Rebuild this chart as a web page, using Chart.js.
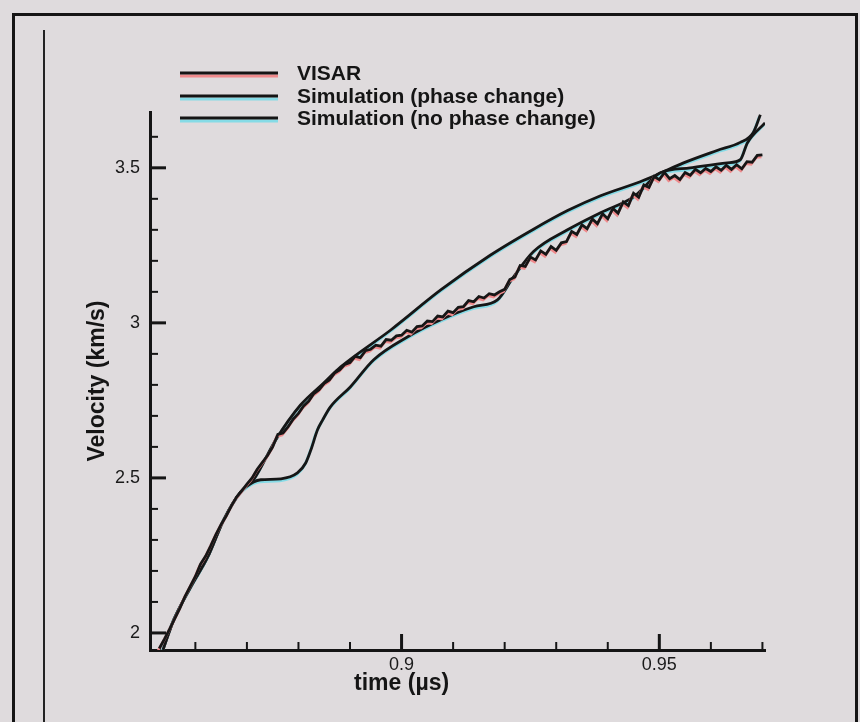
<!DOCTYPE html>
<html lang="en">
<head>
<meta charset="utf-8">
<title>VISAR vs simulation</title>
<style>
    html, body { margin: 0; padding: 0; background: #dfdbdd; }
    #wrap { position: relative; width: 860px; height: 722px; overflow: hidden; }
    #frame { position: absolute; left: 12px; top: 13px; width: 840px; height: 760px;
             border: 3px solid #151515; }
    #inner { position: absolute; left: 43px; top: 30px; width: 2px; height: 700px; background: #222; }
    #myChart { position: absolute; left: 0; top: 0; }
</style>
</head>
<body>
<div id="wrap">
    <div id="frame"></div>
    <div id="inner"></div>
    <canvas id="myChart" width="860" height="722"></canvas>
</div>

<script src="https://cdn.jsdelivr.net/npm/chart.js"></script>
<script>
    // time (µs) / velocity (km/s)
    var visarTime = [
        0.853, 0.854, 0.855, 0.856, 0.857, 0.858, 0.859, 0.860, 0.861, 0.862,
        0.863, 0.864, 0.865, 0.866, 0.867, 0.868, 0.869, 0.870, 0.871, 0.872,
        0.873, 0.874, 0.875, 0.876, 0.877, 0.878, 0.879, 0.880, 0.881, 0.882,
        0.883, 0.884, 0.885, 0.886, 0.887, 0.888, 0.889, 0.890, 0.891, 0.892,
        0.893, 0.894, 0.895, 0.896, 0.897, 0.898, 0.899, 0.900, 0.901, 0.902,
        0.903, 0.904, 0.905, 0.906, 0.907, 0.908, 0.909, 0.910, 0.911, 0.912,
        0.913, 0.914, 0.915, 0.916, 0.917, 0.918, 0.919, 0.920, 0.921, 0.922,
        0.923, 0.924, 0.925, 0.926, 0.927, 0.928, 0.929, 0.930, 0.931, 0.932,
        0.933, 0.934, 0.935, 0.936, 0.937, 0.938, 0.939, 0.940, 0.941, 0.942,
        0.943, 0.944, 0.945, 0.946, 0.947, 0.948, 0.949, 0.950, 0.951, 0.952,
        0.953, 0.954, 0.955, 0.956, 0.957, 0.958, 0.959, 0.960, 0.961, 0.962,
        0.963, 0.964, 0.965, 0.966, 0.967, 0.968, 0.969, 0.970
    ];
    var visarVel = [
        1.950, 1.980, 2.012, 2.046, 2.080, 2.118, 2.150, 2.182, 2.222, 2.248,
        2.282, 2.318, 2.350, 2.378, 2.410, 2.438, 2.458, 2.480, 2.500, 2.528,
        2.550, 2.572, 2.600, 2.640, 2.645, 2.665, 2.690, 2.708, 2.732, 2.748,
        2.772, 2.784, 2.805, 2.816, 2.838, 2.848, 2.866, 2.872, 2.892, 2.888,
        2.910, 2.915, 2.928, 2.925, 2.946, 2.944, 2.958, 2.960, 2.976, 2.970,
        2.988, 2.990, 3.006, 3.004, 3.022, 3.019, 3.038, 3.033, 3.050, 3.052,
        3.072, 3.068, 3.085, 3.080, 3.094, 3.090, 3.100, 3.108, 3.140, 3.148,
        3.185, 3.182, 3.212, 3.203, 3.232, 3.221, 3.246, 3.234, 3.258, 3.262,
        3.295, 3.285, 3.316, 3.304, 3.335, 3.320, 3.352, 3.336, 3.369, 3.354,
        3.390, 3.378, 3.418, 3.405, 3.445, 3.437, 3.472, 3.462, 3.485, 3.465,
        3.475, 3.462, 3.485, 3.476, 3.495, 3.484, 3.498, 3.488, 3.503, 3.492,
        3.508, 3.495, 3.510, 3.497, 3.520, 3.518, 3.540, 3.542
    ];

    var phaseTime = [
        0.8537, 0.8558, 0.8591, 0.8624, 0.8655, 0.8688, 0.8713, 0.8727, 0.8766, 0.8798,
        0.8814, 0.8824, 0.8837, 0.8847, 0.8862, 0.8901, 0.8946, 0.9012, 0.9076, 0.9140,
        0.9186, 0.9217, 0.9256, 0.9322, 0.9386, 0.9450, 0.9502, 0.9560, 0.9632, 0.9657,
        0.9671, 0.9705
    ];
    var phaseVel = [
        1.945, 2.042, 2.148, 2.245, 2.365, 2.455, 2.487, 2.494, 2.497, 2.516,
        2.548, 2.590, 2.655, 2.687, 2.729, 2.794, 2.881, 2.955, 3.010, 3.052,
        3.074, 3.148, 3.230, 3.300, 3.355, 3.406, 3.484, 3.500, 3.516, 3.526,
        3.581, 3.645
    ];

    var noPhaseTime = [
        0.8537, 0.8558, 0.8591, 0.8624, 0.8655, 0.8688, 0.8713, 0.8756, 0.8804, 0.8849,
        0.8882, 0.8979, 0.9076, 0.9172, 0.9256, 0.9322, 0.9386, 0.9463, 0.9496, 0.9547,
        0.9612, 0.9657, 0.9682, 0.9696
    ];
    var noPhaseVel = [
        1.945, 2.042, 2.148, 2.245, 2.365, 2.455, 2.494, 2.623, 2.735, 2.806,
        2.858, 2.977, 3.106, 3.218, 3.302, 3.362, 3.410, 3.455, 3.478, 3.516,
        3.556, 3.582, 3.613, 3.671
    ];

    var xMajorTicks = [0.9, 0.95];
    var xMinorTicks = [0.86, 0.87, 0.88, 0.89, 0.91, 0.92, 0.93, 0.94, 0.96, 0.97];
    var yMajorTicks = [2, 2.5, 3, 3.5];
    var yMinorTicks = [2.1, 2.2, 2.3, 2.4, 2.6, 2.7, 2.8, 2.9, 3.1, 3.2, 3.3, 3.4, 3.6];

    function pairs(xs, ys) {
        return xs.map(function (x, i) { return {x: x, y: ys[i]}; });
    }

    var fontFamily = '"Liberation Sans", Arial, Helvetica, sans-serif';
    var ink = '#151515';

    // coloured offset under each black trace, like the printed figure
    var haloPlugin = {
        id: 'halo',
        beforeDatasetDraw: function (chart, args) {
            var ds = chart.data.datasets[args.index];
            var ctx = chart.ctx;
            ctx.save();
            ctx.shadowColor = ds.haloColor;
            ctx.shadowOffsetX = -1;
            ctx.shadowOffsetY = 2;
            ctx.shadowBlur = 0;
        },
        afterDatasetDraw: function (chart) {
            chart.ctx.restore();
        }
    };

    // inward tick marks + x title under the 0.9 label
    var tickPlugin = {
        id: 'inTicks',
        afterDatasetsDraw: function (chart) {
            var ctx = chart.ctx, xs = chart.scales.x, ys = chart.scales.y;
            var left = chart.chartArea.left, bottom = chart.chartArea.bottom;
            ctx.save();
            ctx.strokeStyle = ink;
            ctx.lineCap = 'butt';
            function yTick(v, len, w) {
                var y = ys.getPixelForValue(v);
                ctx.lineWidth = w;
                ctx.beginPath(); ctx.moveTo(left, y); ctx.lineTo(left + len, y); ctx.stroke();
            }
            function xTick(v, len, w) {
                var x = xs.getPixelForValue(v);
                ctx.lineWidth = w;
                ctx.beginPath(); ctx.moveTo(x, bottom); ctx.lineTo(x, bottom - len); ctx.stroke();
            }
            yMinorTicks.forEach(function (v) { yTick(v, 8, 2); });
            yMajorTicks.forEach(function (v) { yTick(v, 16, 3); });
            xMinorTicks.forEach(function (v) { xTick(v, 8, 2); });
            xMajorTicks.forEach(function (v) { xTick(v, 16, 3); });

            ctx.fillStyle = ink;
            ctx.font = 'bold 23px ' + fontFamily;
            ctx.textAlign = 'center';
            ctx.textBaseline = 'middle';
            ctx.fillText('time (\u00b5s)', xs.getPixelForValue(0.9), 684);
            ctx.restore();
        }
    };

    // legend drawn top-left like the original
    var legendPlugin = {
        id: 'sideLegend',
        afterDraw: function (chart) {
            var ctx = chart.ctx;
            var rowsY = [73, 96, 118];
            ctx.save();
            ctx.font = 'bold 21px ' + fontFamily;
            ctx.textBaseline = 'middle';
            chart.data.datasets.forEach(function (ds, i) {
                var y = rowsY[i];
                ctx.strokeStyle = ds.haloColor;
                ctx.lineWidth = 3;
                ctx.beginPath(); ctx.moveTo(180, y + 3); ctx.lineTo(278, y + 3); ctx.stroke();
                ctx.strokeStyle = ink;
                ctx.beginPath(); ctx.moveTo(180, y); ctx.lineTo(278, y); ctx.stroke();
                ctx.fillStyle = ink;
                ctx.fillText(ds.label, 297, y + 1);
            });
            ctx.restore();
        }
    };

    var data = {
        datasets: [{
            label: 'VISAR',
            data: pairs(visarTime, visarVel),
            borderColor: '#161616',
            haloColor: '#ef8a8c',
            borderWidth: 2.8,
            pointRadius: 0,
            tension: 0
        }, {
            label: 'Simulation (phase change)',
            data: pairs(phaseTime, phaseVel),
            borderColor: '#161616',
            haloColor: '#86dbe6',
            borderWidth: 2.8,
            pointRadius: 0,
            cubicInterpolationMode: 'monotone'
        }, {
            label: 'Simulation (no phase change)',
            data: pairs(noPhaseTime, noPhaseVel),
            borderColor: '#161616',
            haloColor: '#86dbe6',
            borderWidth: 2.8,
            pointRadius: 0,
            cubicInterpolationMode: 'monotone'
        }]
    };

    var config = {
        type: 'line',
        data: data,
        plugins: [haloPlugin, tickPlugin, legendPlugin],
        options: {
            responsive: false,
            animation: false,
            devicePixelRatio: 1,
            layout: { padding: { top: 112, right: 95, left: 0, bottom: 0 } },
            plugins: {
                legend: { display: false },
                tooltip: { enabled: false }
            },
            scales: {
                x: {
                    type: 'linear',
                    min: 0.8512,
                    max: 0.9705,
                    grid: { display: false, drawTicks: false },
                    border: { color: ink, width: 3 },
                    afterBuildTicks: function (s) {
                        s.ticks = xMajorTicks.map(function (v) { return {value: v}; });
                    },
                    afterFit: function (s) { s.height = 72; },
                    ticks: {
                        color: '#1a1a1a',
                        padding: 4,
                        maxRotation: 0,
                        font: { family: fontFamily, size: 18 },
                        callback: function (v) { return String(v); }
                    }
                },
                y: {
                    type: 'linear',
                    min: 1.945,
                    max: 3.68,
                    grid: { display: false, drawTicks: false },
                    border: { color: ink, width: 3 },
                    afterBuildTicks: function (s) {
                        s.ticks = yMajorTicks.map(function (v) { return {value: v}; });
                    },
                    afterFit: function (s) { s.width = 150; },
                    ticks: {
                        color: '#1a1a1a',
                        padding: 10,
                        font: { family: fontFamily, size: 18 },
                        callback: function (v) { return String(v); }
                    },
                    title: {
                        display: true,
                        text: 'Velocity (km/s)',
                        color: ink,
                        font: { family: fontFamily, size: 23, weight: 'bold' },
                        padding: { top: 84, bottom: 0 }
                    }
                }
            }
        }
    };

    var myChart = new Chart(document.getElementById('myChart'), config);
</script>
</body>
</html>
